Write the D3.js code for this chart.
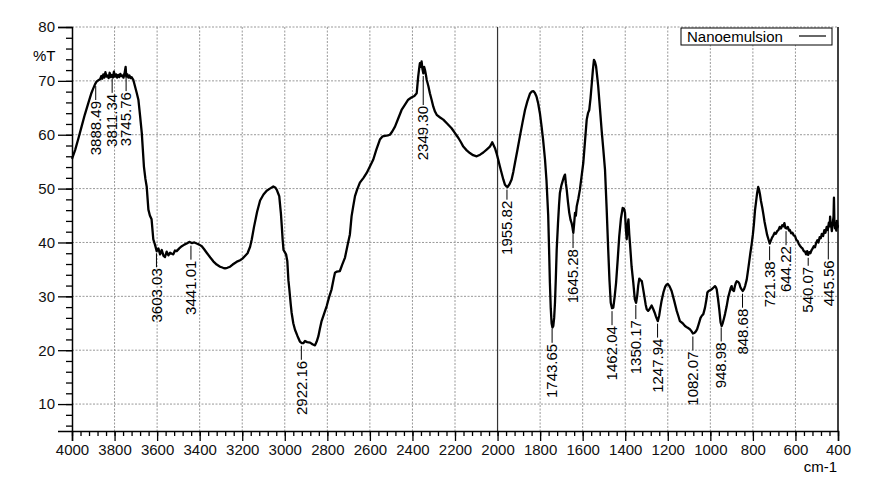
<!DOCTYPE html>
<html>
<head>
<meta charset="utf-8">
<script src="https://cdnjs.cloudflare.com/ajax/libs/d3/7.8.5/d3.min.js"></script>
<style>
  body { margin: 0; background: #fff; }
  svg { font-family: "Liberation Sans", Arial, sans-serif; }
  .grid line { stroke: #999; stroke-dasharray: 2,1.5; }
  .tick text { font-size: 15px; fill: #111; }
</style>
</head>
<body>
<svg width="883" height="478"></svg>
<script>
// spectrum (wavenumber in cm-1, transmittance in %T)
const wavenumber = [4000,3985,3970,3955,3940,3923,3910,3900,3890,3884,3876,3868,3862,3858,3853,3848,3843,3838,3833,3828,3823,3818,3813,3808,3803,3798,3793,3788,3783,3778,3773,3768,3763,3758,3753,3748,3745,3740,3735,3730,3725,3720,3712,3704,3696,3688,3680,3672,3662,3655,3649,3641,3634,3626,3618,3610,3602,3594,3586,3578,3570,3563,3555,3547,3539,3531,3524,3516,3508,3496,3484,3472,3461,3449,3437,3425,3414,3402,3390,3378,3367,3350,3336,3320,3304,3290,3281,3270,3257,3245,3234,3222,3210,3199,3187,3175,3163,3155,3145,3130,3116,3100,3085,3070,3054,3045,3038,3030,3026,3021,3018,3014,3010,3006,3000,2994,2988,2983,2979,2972,2968,2960,2952,2940,2929,2920,2913,2905,2895,2881,2870,2858,2850,2842,2835,2827,2815,2803,2792,2780,2770,2764,2755,2741,2730,2717,2705,2694,2686,2678,2670,2660,2647,2630,2615,2600,2584,2570,2553,2540,2529,2515,2506,2495,2482,2465,2451,2435,2420,2405,2391,2380,2376,2373,2368,2365,2361,2357,2353,2349,2345,2341,2337,2333,2325,2318,2310,2302,2294,2286,2270,2255,2235,2216,2200,2184,2172,2161,2145,2130,2115,2098,2082,2067,2050,2036,2030,2025,2019,2012,2005,1997,1989,1981,1973,1965,1958,1953,1944,1934,1926,1918,1906,1895,1883,1871,1860,1848,1840,1832,1825,1817,1809,1801,1793,1786,1777,1770,1762,1758,1754,1750,1746,1742,1738,1734,1730,1726,1722,1716,1711,1707,1700,1694,1688,1683,1679,1675,1669,1663,1657,1652,1648,1644,1640,1636,1632,1628,1620,1613,1605,1597,1589,1581,1575,1569,1563,1557,1552,1547,1542,1537,1532,1527,1519,1511,1503,1495,1487,1480,1474,1468,1462,1456,1450,1443,1435,1428,1420,1412,1406,1401,1397,1393,1389,1385,1381,1378,1370,1362,1355,1349,1344,1339,1334,1328,1322,1318,1310,1304,1299,1292,1286,1276,1268,1262,1255,1247,1240,1235,1229,1220,1212,1205,1200,1192,1182,1170,1158,1150,1143,1130,1119,1108,1096,1088,1082,1075,1068,1062,1055,1046,1040,1033,1025,1018,1014,1008,1002,994,986,978,974,970,964,958,952,947,942,936,931,924,916,910,904,900,896,889,884,880,876,870,864,858,853,848,842,836,829,824,818,812,806,800,795,790,785,780,775,771,767,762,756,751,745,739,733,727,721,716,710,704,698,692,686,680,674,668,662,657,652,647,641,636,630,626,620,614,608,602,596,590,585,579,573,567,561,555,550,545,540,535,530,524,519,514,508,503,497,492,486,481,476,470,464,459,453,448,443,439,437,435,432,429,425,421,419,417,414,411,408,405,402,400];
const transmittance = [55.5,57.2,59.3,61.5,63.7,65.9,67.6,68.6,69.5,69.9,70.1,70.3,70.9,70.4,71.2,70.6,71.6,70.8,71.0,70.5,71.5,70.7,71.1,70.6,71.7,70.8,71.2,70.6,71.1,70.7,71.3,70.9,71.0,70.6,71.4,72.6,70.8,71.2,70.6,71.0,70.5,70.7,70.2,69.0,67.8,66.5,63.5,60.3,54.1,51.8,50.4,46.1,45.0,44.3,40.6,39.6,38.4,38.9,37.8,38.6,37.5,37.3,38.3,37.6,38.1,37.9,37.8,38.5,38.4,38.9,39.3,39.6,39.8,40.1,39.9,40.0,39.8,39.6,39.3,38.7,38.1,37.2,36.5,35.9,35.5,35.3,35.2,35.3,35.5,35.9,36.2,36.5,36.7,37.0,37.5,38.0,39.2,40.6,42.8,45.7,47.8,48.9,49.6,50.0,50.4,50.2,49.8,49.0,48.6,46.5,45.3,43.0,40.5,38.6,38.2,37.8,36.5,33.0,31.5,28.5,27.0,25.0,23.8,22.6,21.6,21.3,21.3,21.7,21.5,21.4,21.1,20.9,21.6,22.6,24.0,25.4,26.8,28.2,29.8,31.3,33.3,34.4,34.6,34.7,35.9,37.2,39.5,41.5,44.9,46.8,48.6,49.8,51.1,52.0,52.9,54.1,55.4,57.2,59.1,59.7,59.8,59.9,60.0,60.6,61.5,63.2,64.6,65.6,66.5,66.9,67.2,67.7,69.5,70.8,72.4,73.3,72.6,73.6,72.2,71.4,72.6,72.0,71.2,70.2,69.0,67.7,66.5,65.2,64.3,63.7,63.2,62.8,62.0,61.2,60.3,59.4,58.6,57.8,57.1,56.6,56.2,56.0,56.3,56.7,57.3,57.8,58.2,58.6,58.1,57.5,56.6,55.4,54.1,52.9,51.7,50.7,50.4,50.3,50.8,51.7,53.1,54.8,57.3,59.7,62.2,64.6,66.2,67.6,68.0,68.1,67.8,67.1,65.8,64.0,61.5,59.1,55.4,51.5,45.0,39.0,32.5,27.8,25.0,24.2,24.5,26.0,28.9,33.5,38.7,43.5,47.0,49.2,50.6,51.4,52.2,52.6,51.0,49.8,47.5,45.5,44.2,43.6,42.8,41.8,43.5,45.5,45.0,46.7,48.2,49.8,52.3,54.8,58.8,62.8,64.0,64.6,66.8,69.6,72.0,73.9,73.5,72.7,70.9,69.0,65.0,60.9,57.3,53.5,46.0,38.7,33.0,28.8,27.8,27.9,29.8,32.5,37.0,41.2,44.5,46.4,46.3,45.5,42.5,40.6,43.0,44.3,41.5,40.0,35.5,32.5,29.5,28.8,30.0,32.0,33.3,33.0,32.8,31.9,30.0,28.5,27.6,27.3,27.6,28.3,27.6,27.0,26.2,25.4,26.5,27.8,29.2,30.8,31.8,32.2,32.3,31.9,31.0,29.2,27.3,26.3,25.4,25.0,24.5,24.2,23.9,23.5,23.1,23.2,23.5,23.9,24.8,26.0,26.4,26.7,27.9,29.5,30.7,31.0,31.1,31.3,31.6,31.9,31.7,31.3,29.6,27.6,25.2,24.5,25.0,25.9,26.7,28.0,29.8,30.7,31.6,31.9,31.2,31.0,32.0,32.5,32.8,32.7,32.4,31.6,31.3,31.0,31.3,32.0,33.1,34.5,36.2,38.0,39.6,41.5,43.5,46.0,47.6,49.2,50.3,49.8,49.0,47.7,46.5,45.3,43.8,42.6,41.4,40.6,39.8,40.3,40.9,41.3,41.8,41.6,42.1,42.3,42.9,42.6,43.2,43.0,43.6,42.7,42.6,42.9,42.2,42.3,41.7,41.8,41.3,41.2,40.5,40.3,39.8,39.4,39.1,38.9,38.4,38.3,37.8,38.4,37.7,38.2,38.0,38.6,38.9,39.3,39.1,39.9,40.4,40.0,41.0,40.8,41.6,41.2,42.3,41.8,42.9,42.3,43.7,43.0,44.8,43.6,43.2,42.1,43.5,44.8,48.3,44.0,42.6,43.3,42.2,44.0,42.8,43.2];

// picked peaks and their labels
const peakLabels = ["3888.49","3811.34","3745.76","3603.03","3441.01","2922.16","2349.30","1955.82","1743.65","1645.28","1462.04","1350.17","1247.94","1082.07","948.98","848.68","721.38","644.22","540.07","445.56"];

// tick values
const xTicks = [4000,3800,3600,3400,3200,3000,2800,2600,2400,2200,2000,1800,1600,1400,1200,1000,800,600,400];
const yTicks = [10,20,30,40,50,60,70,80];
const seriesName = "Nanoemulsion";

const svg = d3.select('svg');
const margin = {top: 27, right: 45, bottom: 47, left: 72};
const width = +svg.attr('width');
const height = +svg.attr('height');
const innerWidth = width - margin.left - margin.right;
const innerHeight = height - margin.top - margin.bottom;

const g = svg.append('g')
  .attr('transform', `translate(${margin.left}, ${margin.top})`);

// wavenumber runs right to left
const xScale = d3.scaleLinear().domain([4000, 400]).range([0, innerWidth]);
const yScale = d3.scaleLinear().domain([5, 80]).range([innerHeight, 0]);

// dashed grid
const grid = g.append('g').attr('class', 'grid');
grid.selectAll('.vgrid').data(xTicks.filter(d => d != 4000 && d != 400 && d != 2000))
  .enter().append('line')
    .attr('x1', d => xScale(d)).attr('x2', d => xScale(d))
    .attr('y1', 0).attr('y2', innerHeight);
grid.selectAll('.hgrid').data(yTicks)
  .enter().append('line')
    .attr('x1', 0).attr('x2', innerWidth)
    .attr('y1', d => yScale(d)).attr('y2', d => yScale(d));

// solid line at 2000 and right frame
g.append('line')
  .attr('x1', xScale(2000)).attr('x2', xScale(2000))
  .attr('y1', 0).attr('y2', innerHeight)
  .attr('stroke', '#333').attr('stroke-width', 1.2);
g.append('line')
  .attr('x1', innerWidth).attr('x2', innerWidth)
  .attr('y1', 0).attr('y2', innerHeight)
  .attr('stroke', '#000').attr('stroke-width', 1.5);

// minor ticks first, then major ticks with labels
g.append('g')
  .call(d3.axisLeft(yScale).tickValues(d3.range(6, 81, 2)).tickSize(6).tickFormat(''))
  .call(a => a.selectAll('.tick line').attr('stroke-width', 1.3));
g.append('g')
  .call(d3.axisLeft(yScale).tickValues(yTicks).tickSize(14).tickPadding(3))
  .call(a => a.selectAll('.tick line').attr('stroke-width', 1.3))
  .call(a => a.select('.domain').attr('stroke-width', 1.5));

g.append('g')
  .attr('transform', `translate(0, ${innerHeight})`)
  .call(d3.axisBottom(xScale).tickValues(d3.range(4000, 399, -40)).tickSize(5).tickFormat(''))
  .call(a => a.selectAll('.tick line').attr('stroke-width', 1.3));
g.append('g')
  .attr('transform', `translate(0, ${innerHeight})`)
  .call(d3.axisBottom(xScale).tickValues(xTicks).tickSize(10).tickPadding(3).tickFormat(d3.format('d')))
  .call(a => a.selectAll('.tick line').attr('stroke-width', 1.3))
  .call(a => a.select('.domain').attr('stroke-width', 1.5));

// axis titles
svg.append('text').attr('x', 33).attr('y', 61)
  .attr('font-size', 15).text('%T');
svg.append('text').attr('x', 837).attr('y', 472)
  .attr('font-size', 15).attr('text-anchor', 'end').text('cm-1');

// the spectrum
const spectrum = wavenumber.map((w, i) => ({w: w, t: transmittance[i]}));
const line = d3.line().x(d => xScale(d.w)).y(d => yScale(d.t));
g.append('path')
  .datum(spectrum)
  .attr('d', line)
  .attr('fill', 'none')
  .attr('stroke', '#000')
  .attr('stroke-width', 2.3)
  .attr('stroke-linejoin', 'round');

// find %T at a wavenumber on the curve
const tAt = w => {
  for (let i = 0; i < wavenumber.length - 1; i++) {
    if (w <= wavenumber[i] && w >= wavenumber[i + 1]) {
      const f = (wavenumber[i] - w) / (wavenumber[i] - wavenumber[i + 1]);
      return transmittance[i] + f * (transmittance[i + 1] - transmittance[i]);
    }
  }
  return transmittance[transmittance.length - 1];
};

// peak labels: short leader then vertical text
// most leaders are the same length, a few are drawn longer/shorter
const leadDefault = 17;
const leadLonger = {"2349.30": 32, "445.56": 33, "540.07": 11, "1955.82": 13};
const leadOf = d => leadLonger[d] || leadDefault;
const peaks = g.selectAll('.peak').data(peakLabels)
  .enter().append('g')
  .attr('class', 'peak')
  .attr('transform', d => `translate(${xScale(+d)}, ${yScale(tAt(+d))})`);
peaks.append('line')
  .attr('y1', 3).attr('y2', d => leadOf(d))
  .attr('stroke', '#000').attr('stroke-width', 1);
peaks.append('text')
  .attr('transform', d => `translate(0, ${leadOf(d) + 1}) rotate(-90)`)
  .attr('text-anchor', 'end')
  .attr('dy', '0.35em')
  .attr('font-size', 15)
  .text(d => d);

// legend
const legend = svg.append('g').attr('transform', 'translate(681, 28)');
legend.append('rect')
  .attr('width', 151).attr('height', 17)
  .attr('fill', '#fff').attr('stroke', '#000').attr('stroke-width', 1);
legend.append('text').attr('x', 6).attr('y', 14)
  .attr('font-size', 15).text(seriesName);
legend.append('line')
  .attr('x1', 118).attr('x2', 145).attr('y1', 8).attr('y2', 8)
  .attr('stroke', '#000').attr('stroke-width', 1.2);
</script>
</body>
</html>
